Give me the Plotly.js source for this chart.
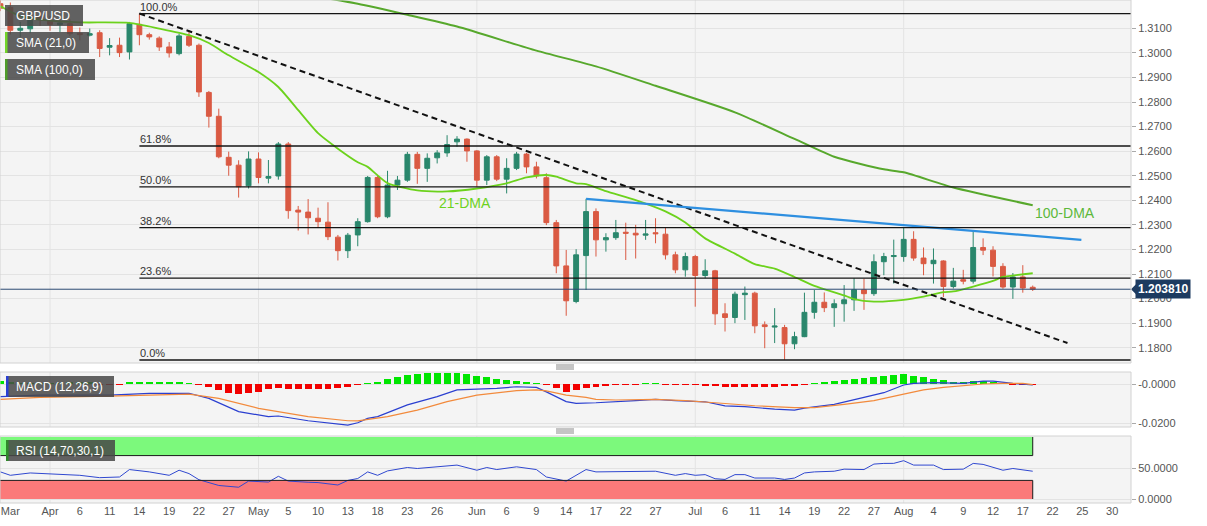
<!DOCTYPE html>
<html>
<head>
<meta charset="utf-8">
<script src="https://cdn.plot.ly/plotly-3.0.1.min.js"></script>
<style>html,body{margin:0;padding:0;background:#fff;}#chart{width:1207px;height:526px;}</style>
</head>
<body>
<div id="chart"></div>
<script>
// ---------- DATA ----------
const dates = ['2022-03-25','2022-03-28','2022-03-29','2022-03-30','2022-03-31','2022-04-01','2022-04-04','2022-04-05','2022-04-06','2022-04-07','2022-04-08','2022-04-11','2022-04-12','2022-04-13','2022-04-14','2022-04-15','2022-04-18','2022-04-19','2022-04-20','2022-04-21','2022-04-22','2022-04-25','2022-04-26','2022-04-27','2022-04-28','2022-04-29','2022-05-02','2022-05-03','2022-05-04','2022-05-05','2022-05-06','2022-05-09','2022-05-10','2022-05-11','2022-05-12','2022-05-13','2022-05-16','2022-05-17','2022-05-18','2022-05-19','2022-05-20','2022-05-23','2022-05-24','2022-05-25','2022-05-26','2022-05-27','2022-05-30','2022-05-31','2022-06-01','2022-06-02','2022-06-03','2022-06-06','2022-06-07','2022-06-08','2022-06-09','2022-06-10','2022-06-13','2022-06-14','2022-06-15','2022-06-16','2022-06-17','2022-06-20','2022-06-21','2022-06-22','2022-06-23','2022-06-24','2022-06-27','2022-06-28','2022-06-29','2022-06-30','2022-07-01','2022-07-04','2022-07-05','2022-07-06','2022-07-07','2022-07-08','2022-07-11','2022-07-12','2022-07-13','2022-07-14','2022-07-15','2022-07-18','2022-07-19','2022-07-20','2022-07-21','2022-07-22','2022-07-25','2022-07-26','2022-07-27','2022-07-28','2022-07-29','2022-08-01','2022-08-02','2022-08-03','2022-08-04','2022-08-05','2022-08-08','2022-08-09','2022-08-10','2022-08-11','2022-08-12','2022-08-15','2022-08-16','2022-08-17','2022-08-18'];

const open = [1.3200,1.3185,1.3092,1.3098,1.3146,1.3132,1.3115,1.3119,1.3080,1.3072,1.3082,1.3023,1.3031,1.3004,1.3116,1.3074,1.3060,1.3024,1.2997,1.3067,1.3031,1.2839,1.2742,1.2575,1.2543,1.2459,1.2568,1.2490,1.2499,1.2629,1.2360,1.2352,1.2327,1.2311,1.2250,1.2195,1.2259,1.2313,1.2493,1.2333,1.2462,1.2482,1.2587,1.2530,1.2573,1.2593,1.2638,1.2649,1.2601,1.2482,1.2577,1.2486,1.2530,1.2588,1.2536,1.2492,1.2309,1.2133,1.1988,1.2175,1.2354,1.2239,1.2248,1.2270,1.2266,1.2258,1.2268,1.2262,1.2178,1.2117,1.2171,1.2094,1.2113,1.1938,1.1923,1.2016,1.2022,1.1893,1.1884,1.1882,1.1816,1.1845,1.1944,1.1985,1.1963,1.1979,1.1995,1.2036,1.2020,1.2150,1.2171,1.2171,1.2241,1.2165,1.2142,1.2153,1.2049,1.2077,1.2071,1.2208,1.2197,1.2131,1.2047,1.2088,1.2046];
const high = [1.3225,1.3205,1.3126,1.3170,1.3176,1.3150,1.3145,1.3136,1.3103,1.3099,1.3092,1.3060,1.3062,1.3126,1.3160,1.3082,1.3067,1.3044,1.3078,1.3092,1.3038,1.2845,1.2773,1.2598,1.2563,1.2599,1.2595,1.2564,1.2637,1.2637,1.2377,1.2405,1.2370,1.2392,1.2259,1.2267,1.2327,1.2499,1.2499,1.2520,1.2499,1.2597,1.2597,1.2591,1.2604,1.2665,1.2661,1.2652,1.2604,1.2584,1.2584,1.2571,1.2597,1.2593,1.2557,1.2510,1.2320,1.2198,1.2201,1.2406,1.2367,1.2266,1.2320,1.2309,1.2300,1.2320,1.2327,1.2291,1.2191,1.2187,1.2178,1.2160,1.2117,1.1981,1.2028,1.2049,1.2028,1.1907,1.1961,1.1893,1.1865,1.2024,1.2035,1.2025,1.1997,1.2055,1.2083,1.2081,1.2180,1.2186,1.2240,1.2289,1.2274,1.2208,1.2204,1.2156,1.2125,1.2117,1.2274,1.2245,1.2213,1.2144,1.2104,1.2136,1.2053];
const low = [1.3170,1.3075,1.3065,1.3080,1.3110,1.3090,1.3085,1.3069,1.3051,1.3067,1.2983,1.2990,1.2983,1.2973,1.3031,1.3054,1.3008,1.2981,1.2990,1.3024,1.2821,1.2696,1.2571,1.2500,1.2411,1.2448,1.2469,1.2469,1.2484,1.2325,1.2277,1.2261,1.2287,1.2238,1.2155,1.2165,1.2213,1.2309,1.2327,1.2327,1.2442,1.2475,1.2467,1.2475,1.2550,1.2577,1.2618,1.2557,1.2455,1.2462,1.2478,1.2428,1.2523,1.2510,1.2489,1.2299,1.2103,1.1930,1.1981,1.2035,1.2171,1.2191,1.2239,1.2157,1.2163,1.2239,1.2225,1.2159,1.2103,1.2089,1.1967,1.2083,1.1893,1.1866,1.1900,1.1913,1.1859,1.1798,1.1819,1.1751,1.1794,1.1843,1.1918,1.1945,1.1885,1.1906,1.1950,1.1954,1.2011,1.2095,1.2061,1.2150,1.2154,1.2095,1.2061,1.2006,1.2041,1.2058,1.2061,1.2177,1.2090,1.2040,1.1999,1.2024,1.2031];
const close = [1.3182,1.3092,1.3100,1.3146,1.3135,1.3116,1.3122,1.3078,1.3074,1.3078,1.3018,1.3030,1.3001,1.3119,1.3074,1.3065,1.3024,1.3000,1.3069,1.3031,1.2841,1.2742,1.2577,1.2543,1.2455,1.2568,1.2493,1.2497,1.2629,1.2358,1.2352,1.2329,1.2313,1.2252,1.2195,1.2258,1.2313,1.2493,1.2333,1.2462,1.2482,1.2587,1.2530,1.2571,1.2593,1.2627,1.2649,1.2601,1.2482,1.2577,1.2486,1.2530,1.2588,1.2536,1.2499,1.2309,1.2133,1.1991,1.2178,1.2354,1.2239,1.2248,1.2268,1.2266,1.2259,1.2263,1.2264,1.2178,1.2117,1.2171,1.2094,1.2113,1.1938,1.1923,1.2018,1.2022,1.1889,1.1886,1.1888,1.1816,1.1845,1.1944,1.1985,1.1963,1.1979,1.1995,1.2036,1.2020,1.2150,1.2171,1.2175,1.2241,1.2165,1.2142,1.2156,1.2049,1.2071,1.2071,1.2208,1.2197,1.2131,1.2047,1.2088,1.2043,1.2038];

const sma21Dates = ['2022-03-25','2022-03-29','2022-04-01','2022-04-06','2022-04-13','2022-04-18','2022-04-21','2022-04-25','2022-04-27','2022-05-02','2022-05-04','2022-05-06','2022-05-10','2022-05-12','2022-05-16','2022-05-17','2022-05-19','2022-05-24','2022-05-27','2022-06-01','2022-06-06','2022-06-08','2022-06-10','2022-06-13','2022-06-15','2022-06-16','2022-06-20','2022-06-23','2022-06-28','2022-06-30','2022-07-04','2022-07-07','2022-07-11','2022-07-13','2022-07-15','2022-07-19','2022-07-22','2022-07-25','2022-07-27','2022-08-01','2022-08-03','2022-08-05','2022-08-08','2022-08-10','2022-08-12','2022-08-15','2022-08-18'];
const sma21Values = [1.3190,1.3150,1.3131,1.3124,1.3122,1.3099,1.3072,1.3040,1.2990,1.2922,1.2861,1.2767,1.2673,1.2610,1.2555,1.2536,1.2470,1.2440,1.2436,1.2448,1.2469,1.2493,1.2503,1.2496,1.2469,1.2466,1.2437,1.2401,1.2355,1.2310,1.2245,1.2183,1.2140,1.2122,1.2088,1.2052,1.2013,1.1998,1.1988,1.1995,1.2008,1.2026,1.2029,1.2049,1.2072,1.2088,1.2103];

const sma100Dates = ['2022-05-10','2022-05-16','2022-05-23','2022-05-30','2022-06-09','2022-06-17','2022-06-27','2022-07-07','2022-07-15','2022-07-21','2022-07-28','2022-08-01','2022-08-08','2022-08-18'];
const sma100Values = [1.3228,1.3200,1.3155,1.3107,1.3009,1.2945,1.2866,1.2758,1.2650,1.2577,1.2526,1.2514,1.2452,1.2380];

const fibLabels = ['100.0%','61.8%','50.0%','38.2%','23.6%','0.0%'];
const fibLevels = [1.3160,1.2621,1.2455,1.2289,1.2083,1.1750];
const fibStartDate = '2022-04-14';

const downTrendDates = ['2022-04-14 12:00','2022-08-24 00:00'];
const downTrendValues = [1.3160,1.1819];
const resistDates = ['2022-06-16 12:00','2022-08-25 09:36'];
const resistValues = [1.2406,1.2239];

const lastPrice = 1.20381;
const lastPriceText = '1.203810';

const macdDates = ['2022-03-25','2022-03-31','2022-04-11','2022-04-15','2022-04-21','2022-04-25','2022-04-28','2022-05-03','2022-05-04','2022-05-09','2022-05-13','2022-05-16','2022-05-17','2022-05-18','2022-05-23','2022-05-26','2022-05-30','2022-06-01','2022-06-03','2022-06-07','2022-06-09','2022-06-10','2022-06-13','2022-06-14','2022-06-15','2022-06-17','2022-06-23','2022-06-27','2022-06-29','2022-07-04','2022-07-06','2022-07-08','2022-07-13','2022-07-15','2022-07-18','2022-07-21','2022-07-26','2022-07-28','2022-08-01','2022-08-02','2022-08-04','2022-08-09','2022-08-11','2022-08-12','2022-08-16','2022-08-17','2022-08-18'];
const macdValues = [-0.0064,-0.0056,-0.0056,-0.0047,-0.0047,-0.0073,-0.0140,-0.0165,-0.0162,-0.0186,-0.0208,-0.0196,-0.0174,-0.0165,-0.0106,-0.0064,-0.0030,-0.0027,-0.0022,-0.0014,-0.0017,-0.0040,-0.0065,-0.0089,-0.0098,-0.0095,-0.0084,-0.0078,-0.0084,-0.0090,-0.0111,-0.0115,-0.0127,-0.0132,-0.0122,-0.0103,-0.0068,-0.0044,-0.0005,0.0003,0.0007,0.0003,0.0015,0.0015,0.0003,0.0000,-0.0005];

const signalDates = ['2022-03-25','2022-03-31','2022-04-11','2022-04-21','2022-04-26','2022-05-02','2022-05-09','2022-05-13','2022-05-16','2022-05-19','2022-05-24','2022-05-27','2022-06-01','2022-06-03','2022-06-07','2022-06-09','2022-06-10','2022-06-14','2022-06-16','2022-06-17','2022-06-21','2022-06-27','2022-06-30','2022-07-05','2022-07-11','2022-07-15','2022-07-19','2022-07-22','2022-07-27','2022-08-01','2022-08-03','2022-08-05','2022-08-09','2022-08-11','2022-08-15','2022-08-17','2022-08-18'];
const signalValues = [-0.0078,-0.0068,-0.0061,-0.0051,-0.0073,-0.0123,-0.0165,-0.0186,-0.0187,-0.0165,-0.0132,-0.0089,-0.0056,-0.0044,-0.0034,-0.0030,-0.0035,-0.0056,-0.0068,-0.0078,-0.0081,-0.0078,-0.0084,-0.0095,-0.0110,-0.0120,-0.0120,-0.0103,-0.0084,-0.0051,-0.0030,-0.0017,-0.0010,0.0000,0.0003,0.0003,-0.0003];

const histValues = [0.0015,0.0012,0.0005,0.0005,0.0005,0.0005,0.0005,0.0008,0.0008,0.0008,-0.0006,-0.0006,-0.0006,0.0008,0.0008,0.0008,0.0008,0.0008,0.0008,0.0006,
 -0.0007,-0.0014,-0.0030,-0.0044,-0.0052,-0.0047,-0.0039,-0.0027,-0.0022,-0.0024,-0.0027,-0.0027,-0.0024,-0.0024,-0.0019,-0.0014,-0.0007,
 0.0007,0.0012,0.0025,0.0034,0.0046,0.0051,0.0054,0.0054,0.0057,0.0057,0.0051,0.0041,0.0034,0.0025,0.0020,0.0017,0.0012,0.0007,
 -0.0005,-0.0020,-0.0039,-0.0030,-0.0022,-0.0017,-0.0008,-0.0007,-0.0007,-0.0007,0.0005,0.0005,-0.0006,-0.0006,-0.0006,-0.0007,-0.0010,-0.0012,-0.0017,-0.0015,-0.0014,-0.0014,-0.0014,-0.0014,-0.0012,-0.0012,-0.0005,
 0.0005,0.0012,0.0015,0.0020,0.0025,0.0029,0.0037,0.0042,0.0046,0.0049,0.0042,0.0037,0.0025,0.0020,0.0012,0.0012,0.0017,0.0017,0.0012,0.0007,-0.0005,-0.0007,-0.0007];

const rsiDates = ['2022-03-25','2022-03-28','2022-03-30','2022-04-01','2022-04-06','2022-04-08','2022-04-12','2022-04-13','2022-04-15','2022-04-19','2022-04-20','2022-04-21','2022-04-22','2022-04-26','2022-04-28','2022-04-29','2022-05-03','2022-05-04','2022-05-05','2022-05-09','2022-05-10','2022-05-11','2022-05-12','2022-05-13','2022-05-16','2022-05-17','2022-05-18','2022-05-19','2022-05-23','2022-05-24','2022-05-30','2022-06-01','2022-06-02','2022-06-03','2022-06-07','2022-06-09','2022-06-10','2022-06-14','2022-06-15','2022-06-16','2022-06-17','2022-06-22','2022-06-27','2022-06-29','2022-06-30','2022-07-01','2022-07-04','2022-07-05','2022-07-06','2022-07-07','2022-07-08','2022-07-11','2022-07-13','2022-07-14','2022-07-15','2022-07-18','2022-07-19','2022-07-21','2022-07-22','2022-07-26','2022-07-27','2022-07-28','2022-07-29','2022-08-01','2022-08-02','2022-08-04','2022-08-05','2022-08-09','2022-08-10','2022-08-11','2022-08-15','2022-08-16','2022-08-17','2022-08-18'];
const rsiValues = [43.7,38.2,42,40,38.2,34.4,35.5,47.5,43.7,38.2,46.4,41,31.1,21.8,19,28.9,27.3,36.6,28.9,27,26.5,24.5,22.6,30,33,43.7,38.2,45.3,50.8,49.2,54.7,46.4,50.8,47.5,51.9,47.5,35.5,28.9,38.2,47.5,43.7,44.8,44.8,38.2,41,38.2,39.3,32.7,31.6,39.3,39.3,33.8,33.8,31.6,33.8,42,43.7,44.8,48.1,47.5,56.3,57.4,57.5,61.8,54.7,54.7,47.5,48.1,57.4,55.8,46.4,49.2,46.4,44.8];

const tickDates = ['2022-03-28','2022-04-01','2022-04-06','2022-04-11','2022-04-14','2022-04-19','2022-04-22','2022-04-27','2022-05-02','2022-05-05','2022-05-10','2022-05-13','2022-05-18','2022-05-23','2022-05-26','2022-06-01','2022-06-06','2022-06-09','2022-06-14','2022-06-17','2022-06-22','2022-06-27','2022-07-01','2022-07-06','2022-07-11','2022-07-14','2022-07-19','2022-07-22','2022-07-27','2022-08-01','2022-08-04','2022-08-09','2022-08-12','2022-08-17','2022-08-22','2022-08-25','2022-08-30'];
const tickLabels = ['Mar','Apr','6','11','14','19','22','27','May','5','10','13','18','23','26','Jun','6','9','14','17','22','27','Jul','6','11','14','19','22','27','Aug','4','9','12','17','22','25','30'];
const monthDates = ['2022-04-01','2022-05-02','2022-06-01','2022-07-01','2022-08-01'];

const priceTicks = [1.18,1.19,1.20,1.21,1.22,1.23,1.24,1.25,1.26,1.27,1.28,1.29,1.30,1.31];
const macdTicks = [0,-0.02];
const macdTickText = ['-0.0000','-0.0200'];
const rsiTicks = [50,0];
const rsiTickText = ['50.0000','0.0000'];
const rsiUpper = 70, rsiLower = 30;

// ---------- LAYOUT HELPERS ----------
const at = d => d + ' 12:00';
const rangeStart = '2022-03-25 11:00', rangeEnd = '2022-09-01 09:36';
const PH = 503, PW = 1131;
const py = Y => 1 - Y / PH;
const px = X => X / PW;
const mainRange = [1.17378, 1.32152];
const macdRange = [-0.02177, 0.00608];
const rsiRange = [-6.45, 101.6];
const FONT = 'Liberation Sans, Arial, sans-serif';
const GRID = '#e3e3e3';
const BORDER = '#d2d2d2';

const traces = [
  {type:'candlestick', x:dates.map(at), open:open, high:high, low:low, close:close,
   xaxis:'x', yaxis:'y', whiskerwidth:0,
   increasing:{line:{color:'#2a876c', width:1}, fillcolor:'#2a876c'},
   decreasing:{line:{color:'#da5a43', width:1}, fillcolor:'#da5a43'}},
  {type:'scatter', mode:'lines', x:sma21Dates.map(at), y:sma21Values, xaxis:'x', yaxis:'y',
   line:{color:'#6cd21c', width:1.8, shape:'spline', smoothing:0.6}},
  {type:'scatter', mode:'lines', x:sma100Dates.map(at), y:sma100Values, xaxis:'x', yaxis:'y',
   line:{color:'#57a82c', width:2, shape:'spline', smoothing:0.6}},
  {type:'scatter', mode:'lines', x:downTrendDates, y:downTrendValues, xaxis:'x', yaxis:'y',
   line:{color:'#111', width:2, dash:'6px,4px'}},
  {type:'scatter', mode:'lines', x:resistDates, y:resistValues, xaxis:'x', yaxis:'y',
   line:{color:'#2e8fe0', width:2.2}},
  {type:'bar', x:dates.map(at), y:histValues, xaxis:'x', yaxis:'y2', width:0.7*86400000,
   marker:{color:histValues.map(v => v >= 0 ? '#00e600' : '#f20000'), line:{width:0}}},
  {type:'scatter', mode:'lines', x:macdDates.map(at), y:macdValues, xaxis:'x', yaxis:'y2',
   line:{color:'#2a3fd0', width:1.2}},
  {type:'scatter', mode:'lines', x:signalDates.map(at), y:signalValues, xaxis:'x', yaxis:'y2',
   line:{color:'#f28a3c', width:1.2}},
  {type:'scatter', mode:'lines', x:rsiDates.map(at), y:rsiValues, xaxis:'x', yaxis:'y3',
   line:{color:'#3048d0', width:1}}
];

const shapes = [];
// month gridlines in every panel
monthDates.forEach(d => {
  [['y', mainRange], ['y2', macdRange], ['y3', rsiRange]].forEach(([ax, r]) => {
    shapes.push({type:'line', xref:'x', yref:ax, x0:at(d), x1:at(d), y0:r[0], y1:r[1],
      line:{color:GRID, width:1}, layer:'below'});
  });
});
// RSI bands
shapes.push({type:'rect', xref:'x', yref:'y3', x0:rangeStart, x1:at(dates[dates.length-1]), y0:rsiUpper, y1:100,
  fillcolor:'#7cf97c', line:{width:0}, layer:'below'});
shapes.push({type:'rect', xref:'x', yref:'y3', x0:rangeStart, x1:at(dates[dates.length-1]), y0:0, y1:rsiLower,
  fillcolor:'#fb7a7a', line:{width:0}, layer:'below'});
[rsiUpper, rsiLower].forEach(v => shapes.push({type:'line', xref:'x', yref:'y3', x0:rangeStart, x1:at(dates[dates.length-1]), y0:v, y1:v,
  line:{color:'#1a1a1a', width:1}}));
shapes.push({type:'line', xref:'x', yref:'y3', x0:at(dates[dates.length-1]), x1:at(dates[dates.length-1]), y0:rsiUpper, y1:100, line:{color:'#1a1a1a', width:1}});
shapes.push({type:'line', xref:'x', yref:'y3', x0:at(dates[dates.length-1]), x1:at(dates[dates.length-1]), y0:0, y1:rsiLower, line:{color:'#1a1a1a', width:1}});
// Fibonacci levels
fibLevels.forEach(v => shapes.push({type:'line', xref:'x', yref:'y', x0:at(fibStartDate), x1:rangeEnd, y0:v, y1:v,
  line:{color:'#151515', width:1.3}}));
// last price line
shapes.push({type:'line', xref:'paper', yref:'y', x0:0, x1:1, y0:lastPrice, y1:lastPrice, line:{color:'#2b4a72', width:1}});
shapes.push({type:'path', xref:'paper', xsizemode:'pixel', xanchor:1, yref:'y', ysizemode:'pixel', yanchor:lastPrice,
  path:'M 0,0 L 5,5 L 5,-5 Z', fillcolor:'#1d3b60', line:{width:0}});
// panel borders
[[0, 363], [372, 427], [436, 503]].forEach(([t, b]) => shapes.push({type:'rect', xref:'paper', yref:'paper',
  x0:0, x1:1, y0:py(b), y1:py(t), line:{color:BORDER, width:1}, fillcolor:'rgba(0,0,0,0)'}));
// drag handles
[365, 367, 369, 429, 431, 433].forEach(Y => shapes.push({type:'line', xref:'paper', yref:'paper',
  x0:px(556), x1:px(574), y0:py(Y), y1:py(Y), line:{color:'#8a8a8a', width:1}}));
// legend boxes
const boxes = [
  {t:'GBP/USD', x0:5, x1:83, y0:5, y1:26, bar:null},
  {t:'SMA (21,0)', x0:5, x1:89, y0:32, y1:53, bar:'#72d52a'},
  {t:'SMA (100,0)', x0:5, x1:95, y0:59, y1:80, bar:'#4f9c2a'},
  {t:'MACD (12,26,9)', x0:6, x1:114, y0:376, y1:397, bar:'#2a3fd4'},
  {t:'RSI (14,70,30,1)', x0:6, x1:115, y0:440, y1:461, bar:'#2f8a2a'}
];
boxes.forEach(b => {
  shapes.push({type:'rect', xref:'paper', yref:'paper', x0:px(b.x0), x1:px(b.x1), y0:py(b.y1), y1:py(b.y0),
    fillcolor:'rgba(72,72,72,0.86)', line:{width:0}});
  if (b.bar) shapes.push({type:'rect', xref:'paper', yref:'paper', x0:px(b.x0), x1:px(b.x0 + 2.5), y0:py(b.y1), y1:py(b.y0),
    fillcolor:b.bar, line:{width:0}});
});

const annotations = [];
fibLabels.forEach((t, i) => annotations.push({xref:'x', yref:'y', x:at(fibStartDate), y:fibLevels[i], text:t,
  showarrow:false, xanchor:'left', yanchor:'bottom', xshift:-1, yshift:-1, font:{size:11, color:'#333', family:FONT}}));
annotations.push({xref:'x', yref:'y', x:at('2022-05-26'), y:1.2391, text:'21-DMA', showarrow:false,
  xanchor:'left', yanchor:'middle', font:{size:14, color:'#6cd21c', family:FONT}});
annotations.push({xref:'x', yref:'y', x:at('2022-08-18'), y:1.2350, text:'100-DMA', showarrow:false,
  xanchor:'left', yanchor:'middle', font:{size:14, color:'#5cb83a', family:FONT}});
annotations.push({xref:'paper', yref:'y', x:1, y:lastPrice, xanchor:'left', xshift:4, yanchor:'middle',
  text:'<b>' + lastPriceText + '</b>', showarrow:false, bgcolor:'#1d3b60', borderpad:2,
  font:{size:12, color:'#ffffff', family:FONT}});
boxes.forEach(b => annotations.push({xref:'paper', yref:'paper', x:px(14), y:py((b.y0 + b.y1) / 2), text:b.t,
  showarrow:false, xanchor:'left', yanchor:'middle', font:{size:12, color:'#ffffff', family:FONT}}));

const yCommon = {side:'right', anchor:'x', showgrid:true, gridcolor:GRID, zeroline:false, ticks:'outside',
  ticklen:4, tickcolor:'#aaaaaa', tickfont:{size:11, color:'#555', family:FONT}, showline:false, fixedrange:true};

const layout = {
  width:1207, height:526,
  margin:{l:0, r:76, t:0, b:23},
  paper_bgcolor:'#ffffff', plot_bgcolor:'#f4f4f4',
  font:{family:FONT},
  showlegend:false, hovermode:false, dragmode:false,
  xaxis:{type:'date', anchor:'y3', range:[rangeStart, rangeEnd], rangebreaks:[{bounds:['sat','mon']}],
    rangeslider:{visible:false}, showgrid:false, zeroline:false, showline:false,
    tickmode:'array', tickvals:tickDates.map(at), ticktext:tickLabels, ticks:'',
    tickfont:{size:11, color:'#555', family:FONT}, fixedrange:true},
  yaxis:Object.assign({}, yCommon, {domain:[py(363), 1], range:mainRange, tickmode:'array',
    tickvals:priceTicks, tickformat:'.4f'}),
  yaxis2:Object.assign({}, yCommon, {domain:[py(427), py(372)], range:macdRange, tickmode:'array',
    tickvals:macdTicks, ticktext:macdTickText}),
  yaxis3:Object.assign({}, yCommon, {domain:[0, py(436)], range:rsiRange, tickmode:'array',
    tickvals:rsiTicks, ticktext:rsiTickText}),
  shapes:shapes,
  annotations:annotations,
  bargap:0
};

Plotly.newPlot('chart', traces, layout, {staticPlot:true, displayModeBar:false});
</script>
</body>
</html>
